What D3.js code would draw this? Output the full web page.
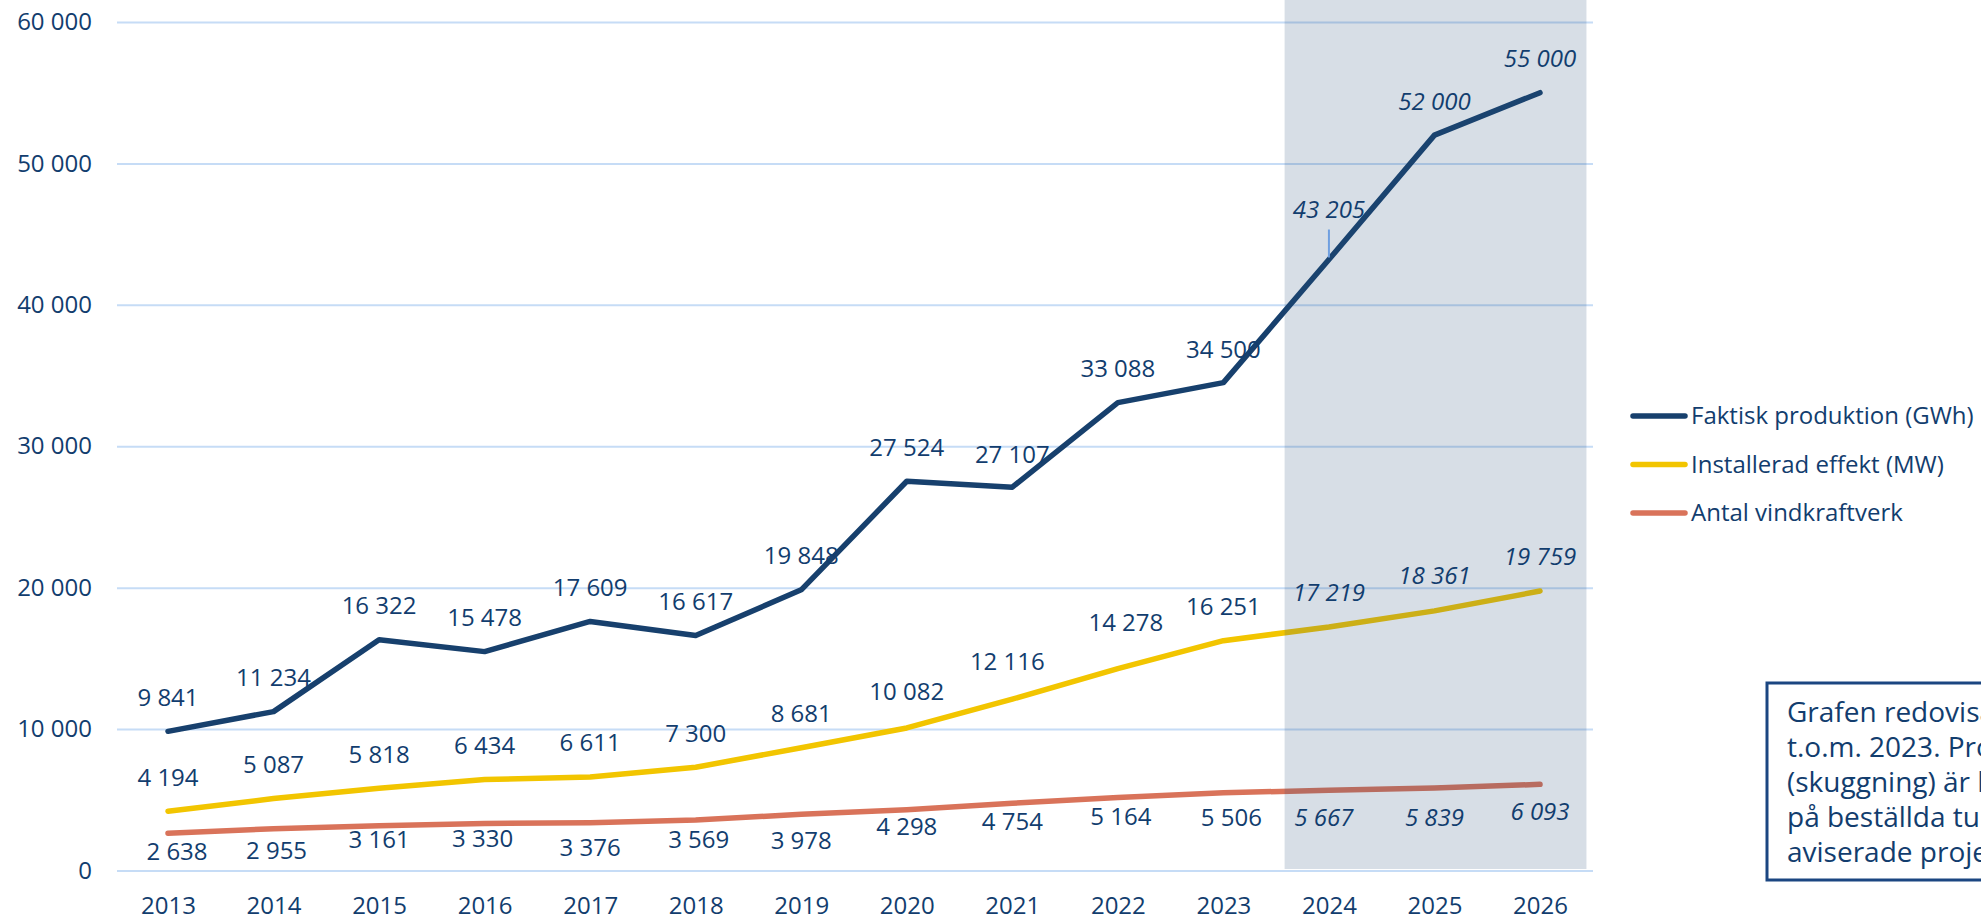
<!DOCTYPE html>
<html>
<head>
<meta charset="utf-8">
<script src="https://cdn.jsdelivr.net/npm/d3@7"></script>
<style>
  html, body { margin: 0; padding: 0; background: #fff; overflow: hidden; }
  svg { display: block; font-family: "Open Sans", sans-serif; }
</style>
</head>
<body>
<div id="chart"></div>
<script>
// chart values
var years = [2013, 2014, 2015, 2016, 2017, 2018, 2019, 2020, 2021, 2022, 2023, 2024, 2025, 2026];
var produktion = [9841, 11234, 16322, 15478, 17609, 16617, 19848, 27524, 27107, 33088, 34500, 43205, 52000, 55000];
var effekt = [4194, 5087, 5818, 6434, 6611, 7300, 8681, 10082, 12116, 14278, 16251, 17219, 18361, 19759];
var antal = [2638, 2955, 3161, 3330, 3376, 3569, 3978, 4298, 4754, 5164, 5506, 5667, 5839, 6093];
var yTicks = [0, 10000, 20000, 30000, 40000, 50000, 60000];
var seriesNames = ["Faktisk produktion (GWh)", "Installerad effekt (MW)", "Antal vindkraftverk"];
var firstForecastYear = 2024;
var noteLines = [
  "Grafen redovisar utfall",
  "t.o.m. 2023. Prognosen",
  "(skuggning) är baserad",
  "på beställda turbiner och",
  "aviserade projekt."
];

// hand placed label nudges (pixels), like the original
var produktionLabelDy = [-34, -34, -34, -34, -34, -34, -34, -34, -33, -34, -33, -50, -34, -34];
var effektLabelDy = [-34, -34, -34, -34, -34, -34, -34, -36, -38, -46, -34, -34, -35, -34];
var effektLabelDx = [0, 0, 0, 0, 0, 0, 0, 0, -5, 8, 0, 0, 0, 0];
var antalLabelDy = [18, 22, 14, 15, 25, 20, 26, 17, 18, 19, 25, 27, 30, 27];
var antalLabelDx = [9, 3, 0, -2, 0, 3, 0, 0, 0, 3, 8, -5, 0, 0];

var width = 1981;
var height = 917;
var textColor = "#123d6e";
var colors = ["#17406d", "#f2c500", "#d9735a"];

var svg = d3.select("#chart").append("svg")
  .attr("width", width)
  .attr("height", height);

var x = d3.scalePoint()
  .domain(years)
  .range([168, 1540]);
var step = x.step();

var y = d3.scaleLinear()
  .domain([0, 60000])
  .range([870.5, 22]);

var series = [
  { name: seriesNames[0], values: produktion, color: colors[0], dy: produktionLabelDy, dx: years.map(() => 0) },
  { name: seriesNames[1], values: effekt, color: colors[1], dy: effektLabelDy, dx: effektLabelDx },
  { name: seriesNames[2], values: antal, color: colors[2], dy: antalLabelDy, dx: antalLabelDx }
];

drawGrid();
drawLines();
drawShade();
drawLabels();
drawLegend();
drawNote();

function drawGrid() {
  var yAxis = svg.append("g")
    .attr("transform", "translate(117,0)")
    .call(d3.axisLeft(y)
      .tickValues(yTicks)
      .tickSize(-(1593 - 117))
      .tickPadding(25)
      .tickFormat(d => d3.format(",")(d).replace(/,/g, " ")));
  yAxis.select(".domain").remove();
  yAxis.selectAll(".tick line")
    .attr("stroke", "#c6dcf6")
    .attr("stroke-width", 2);
  yAxis.selectAll(".tick text")
    .attr("fill", textColor)
    .style("font-size", "24px")
    .style("font-family", "'Open Sans', sans-serif");

  var xAxis = svg.append("g")
    .attr("transform", "translate(0," + y(0) + ")")
    .call(d3.axisBottom(x).tickSize(0).tickPadding(26));
  xAxis.select(".domain").remove();
  xAxis.selectAll(".tick text")
    .attr("fill", textColor)
    .style("font-size", "24px")
    .style("font-family", "'Open Sans', sans-serif");
}

function drawLines() {
  var line = d3.line()
    .x((d, i) => x(years[i]))
    .y(d => y(d));
  for (var s of series) {
    svg.append("path")
      .datum(s.values)
      .attr("fill", "none")
      .attr("stroke", s.color)
      .attr("stroke-width", 5.5)
      .attr("stroke-linejoin", "round")
      .attr("stroke-linecap", "round")
      .attr("d", line);
  }
}

function drawShade() {
  var left = x(firstForecastYear - 1) + step * 0.58;
  var right = x(years[years.length - 1]) + step * 0.44;
  svg.append("rect")
    .attr("x", left)
    .attr("y", 0)
    .attr("width", right - left)
    .attr("height", y(0) - 1.5)
    .attr("fill", "rgb(44,80,120)")
    .attr("fill-opacity", 0.19);
}

function drawLabels() {
  var fmt = d => d3.format(",")(d).replace(/,/g, " ");
  for (var s of series) {
    svg.append("g")
      .selectAll("text")
      .data(s.values)
      .join("text")
      .attr("x", (d, i) => x(years[i]) + s.dx[i])
      .attr("y", (d, i) => y(d) + s.dy[i])
      .attr("dy", "0.35em")
      .attr("text-anchor", "middle")
      .attr("fill", textColor)
      .style("font-size", "24px")
      .style("font-style", (d, i) => years[i] >= firstForecastYear ? "italic" : "normal")
      .text(fmt);
  }
  // leader line for 2024 production label
  var i24 = years.indexOf(firstForecastYear);
  svg.append("line")
    .attr("x1", x(firstForecastYear))
    .attr("x2", x(firstForecastYear))
    .attr("y1", y(produktion[i24]) - 30)
    .attr("y2", y(produktion[i24]) - 2)
    .attr("stroke", "#6f9fe0")
    .attr("stroke-width", 2);
}

function drawLegend() {
  var legend = svg.append("g")
    .attr("transform", "translate(1633,416)");
  var rows = legend.selectAll("g")
    .data(series)
    .join("g")
    .attr("transform", (d, i) => "translate(0," + (i * 48.5) + ")");
  rows.append("line")
    .attr("x1", 0)
    .attr("x2", 52)
    .attr("stroke", d => d.color)
    .attr("stroke-width", 5.5)
    .attr("stroke-linecap", "round");
  rows.append("text")
    .attr("x", 58)
    .attr("dy", "0.35em")
    .attr("fill", textColor)
    .style("font-size", "24px")
    .text(d => d.name);
}

function drawNote() {
  var note = svg.append("g");
  note.append("rect")
    .attr("x", 1767)
    .attr("y", 683)
    .attr("width", 330)
    .attr("height", 197)
    .attr("fill", "#fff")
    .attr("stroke", "#1b4681")
    .attr("stroke-width", 3);
  note.append("text")
    .attr("fill", textColor)
    .style("font-size", "28px")
    .selectAll("tspan")
    .data(noteLines)
    .join("tspan")
    .attr("x", 1787)
    .attr("y", (d, i) => 722 + i * 35)
    .text(d => d);
}
</script>
</body>
</html>
